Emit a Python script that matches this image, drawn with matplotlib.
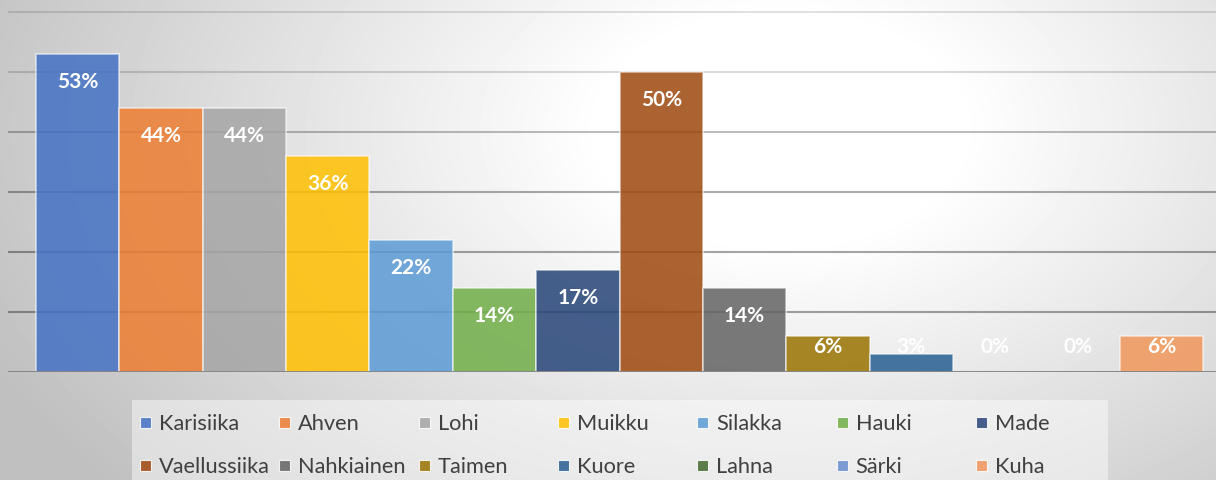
import numpy as np
import matplotlib.pyplot as plt
from matplotlib.patches import Rectangle

plt.rcParams['font.family'] = ['Lato', 'DejaVu Sans']

species = ["Karisiika", "Ahven", "Lohi", "Muikku", "Silakka", "Hauki", "Made",
           "Vaellussiika", "Nahkiainen", "Taimen", "Kuore", "Lahna", "Särki", "Kuha"]
shares = [0.53, 0.44, 0.44, 0.36, 0.22, 0.14, 0.17,
          0.50, 0.14, 0.06, 0.03, 0.0, 0.0, 0.06]
labels = ["53%", "44%", "44%", "36%", "22%", "14%", "17%",
          "50%", "14%", "6%", "3%", "0%", "0%", "6%"]
colors = ["#4472C4", "#ED7D31", "#A5A5A5", "#FFC000", "#5B9BD5", "#70AD47", "#264478",
          "#9E480E", "#636363", "#997300", "#255E91", "#43682B", "#698ED0", "#F1975A"]
grid_vals = [0.1, 0.2, 0.3, 0.4, 0.5, 0.6]
grid_alpha = [0.36, 0.35, 0.33, 0.26, 0.15, 0.12]

W, H = 1216, 481
fig = plt.figure(figsize=(W / 100, H / 100), dpi=100)

# radial background
bg = fig.add_axes([0, 0, 1, 1])
yy, xx = np.mgrid[0:H, 0:W]
r = np.sqrt(((xx - 780) / 820.0) ** 2 + ((yy - 130) / 520.0) ** 2)
val = 1.0 - 0.25 * np.clip((r - 0.22) / 0.85, 0, 1)
bg.imshow(val, cmap='gray', vmin=0, vmax=1, aspect='auto', interpolation='bilinear')
bg.axis('off')

# legend box
fig.patches.append(Rectangle((132 / W, 0), (1108 - 132) / W, (481 - 401) / H,
                             transform=fig.transFigure, facecolor='white',
                             alpha=0.45, edgecolor='none', zorder=1))

ax = fig.add_axes([8 / W, 108 / H, 1208 / W, 373 / H])
ax.patch.set_alpha(0)
ax.set_ylim(0, 0.6217)
ax.set_xlim(-0.836, -0.836 + 1208 / 83.36)

for g, a in zip(grid_vals, grid_alpha):
    ax.axhline(g, color='black', alpha=a, lw=1.5, zorder=1)
ax.axhline(0, color='#7f7f7f', lw=2, zorder=3)

x = np.arange(len(species))
for i in range(len(species)):
    ax.bar(x[i], shares[i], width=1.0, color=colors[i], alpha=0.85,
           edgecolor='none', zorder=2)
    ax.bar(x[i], shares[i], width=1.0, fill=False,
           edgecolor=(1, 1, 1, 0.55), lw=1.3, zorder=2)
    ypos = max(shares[i] - 27 / 600, 26 / 600)
    ax.text(x[i], ypos, labels[i], ha='center', va='center', color='white',
            fontsize=15, fontweight='bold', zorder=4)

ax.set_xticks([])
ax.set_yticks([])
for s in ax.spines.values():
    s.set_visible(False)

# legend
for i, name in enumerate(species):
    col, row = i % 7, i // 7
    px = 140 + col * 139.3
    py = 423 + row * 43
    fig.patches.append(Rectangle((px / W, 1 - (py + 5.5) / H), 11 / W, 11 / H,
                                 transform=fig.transFigure, facecolor=colors[i],
                                 alpha=0.85, edgecolor=(1, 1, 1, 0.6), lw=0.8, zorder=2))
    fig.text((px + 19) / W, 1 - (py + 1) / H, name, ha='left', va='center',
             fontsize=15.7, color='#404040', zorder=3)

fig.savefig('out.png', dpi=100)
